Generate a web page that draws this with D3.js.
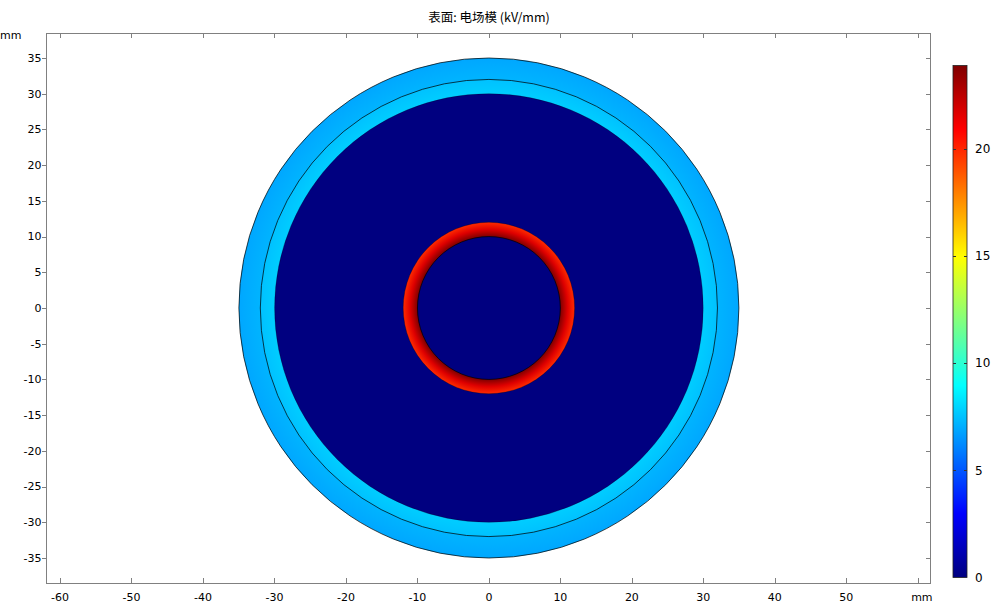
<!DOCTYPE html>
<html lang="zh">
<head>
    <meta charset="UTF-8">
    <title>表面: 电场模 (kV/mm)</title>
    <style>
        body {
            margin: 0;
            padding: 0;
            background-color: #ffffff;
        }
        svg {
            display: block;
        }
        text {
            font-family: "DejaVu Sans", Arial, sans-serif;
            font-size: 11px;
            fill: #000;
        }
    </style>
</head>
<body>
    <svg width="998" height="606"></svg>

    <script src="https://d3js.org/d3.v7.min.js"></script>
    <script>
        let width = 998, height = 606;

        // Cable layers (mm): inner and outer radius of each one
        const layerInner = [0, 10, 12, 30, 32];
        const layerOuter = [10, 12, 30, 32, 35];
        // Field norm (kV/mm) read at evenly spaced radii across each layer, inner -> outer
        const layerField = [
            [0, 0],
            [23.9, 21.7, 19.9],
            [0, 0],
            [7.8, 7.5],
            [7.2, 6.9]
        ];
        // Boundaries drawn as dark lines, with how strong they look
        const edgeRadius = [10, 12, 30, 32, 35];
        const edgeOpacity = [0.9, 0.35, 0.3, 0.9, 0.9];

        const xTicks = [-60, -50, -40, -30, -20, -10, 0, 10, 20, 30, 40, 50, 60];
        const yTicks = [-35, -30, -25, -20, -15, -10, -5, 0, 5, 10, 15, 20, 25, 30, 35];
        const colorTicks = [0, 5, 10, 15, 20];
        const fieldMax = 23.9;

        // Rainbow colour table (fraction of max -> colour)
        const rainbowStops = [0, 0.125, 0.375, 0.625, 0.875, 1];
        const rainbowColors = ["#000080", "#0000ff", "#00ffff", "#ffff00", "#ff0000", "#800000"];

        let svg = d3.select("svg")
            .attr("viewBox", "0 0 " + width + " " + height);

        let x = d3.scaleLinear().domain([-61.95, 61.7]).range([46, 930]);
        let y = d3.scaleLinear().domain([38.5, -38.5]).range([33, 583]);

        let colorScale = d3.scaleLinear()
            .domain(rainbowStops.map(s => s * fieldMax))
            .range(rainbowColors)
            .clamp(true);

        let defs = svg.append("defs");
        let cx = x(0), cy = y(0);
        let pxPerMm = x(1) - x(0);

        // One radial gradient per layer
        layerOuter.forEach((rOut, i) => {
            let rIn = layerInner[i];
            let vals = layerField[i];
            let g = defs.append("radialGradient")
                .attr("id", "layer" + i)
                .attr("gradientUnits", "userSpaceOnUse")
                .attr("cx", cx).attr("cy", cy).attr("fx", cx).attr("fy", cy)
                .attr("r", rOut * pxPerMm);
            vals.forEach((v, k) => {
                let r = rIn + (rOut - rIn) * k / (vals.length - 1);
                g.append("stop")
                    .attr("offset", r / rOut)
                    .attr("stop-color", colorScale(v));
            });
        });

        // Title
        svg.append("text")
            .attr("x", 489)
            .attr("y", 22)
            .attr("text-anchor", "middle")
            .style("font-family", "'Noto Sans CJK SC', 'DejaVu Sans', sans-serif")
            .style("font-size", "12.5px")
            .text("表面: 电场模 (kV/mm)");

        // Layers, outermost first so inner disks cover them
        let order = d3.range(layerOuter.length).reverse();
        svg.append("g")
            .selectAll("circle")
            .data(order)
            .enter()
            .append("circle")
            .attr("cx", cx)
            .attr("cy", cy)
            .attr("r", i => y(0) - y(layerOuter[i]))
            .attr("fill", i => "url(#layer" + i + ")");

        svg.append("g")
            .selectAll("circle")
            .data(edgeRadius)
            .enter()
            .append("circle")
            .attr("cx", cx)
            .attr("cy", cy)
            .attr("r", r => y(0) - y(r))
            .attr("fill", "none")
            .attr("stroke", "#000")
            .attr("stroke-width", 0.8)
            .attr("stroke-opacity", (r, i) => edgeOpacity[i]);

        // Frame
        let frameColor = "#808080";
        svg.append("rect")
            .attr("x", x.range()[0] + 0.5)
            .attr("y", y.range()[0] + 0.5)
            .attr("width", x.range()[1] - x.range()[0])
            .attr("height", y.range()[1] - y.range()[0])
            .attr("fill", "none")
            .attr("stroke", frameColor);

        let ticks = svg.append("g").attr("stroke", frameColor).attr("shape-rendering", "crispEdges");
        xTicks.forEach(t => {
            let px = Math.round(x(t)) + 0.5;
            ticks.append("line").attr("x1", px).attr("x2", px)
                .attr("y1", y.range()[0]).attr("y2", y.range()[0] + 5);
            ticks.append("line").attr("x1", px).attr("x2", px)
                .attr("y1", y.range()[1]).attr("y2", y.range()[1] - 5);
        });
        yTicks.forEach(t => {
            let py = Math.round(y(t)) + 0.5;
            ticks.append("line").attr("y1", py).attr("y2", py)
                .attr("x1", x.range()[0] - 4).attr("x2", x.range()[0]);
            ticks.append("line").attr("y1", py).attr("y2", py)
                .attr("x1", x.range()[1]).attr("x2", x.range()[1] - 4);
        });

        // Tick labels
        svg.append("g")
            .selectAll("text")
            .data(xTicks.filter(t => t < 60))
            .enter()
            .append("text")
            .attr("x", d => x(d))
            .attr("y", 601)
            .attr("text-anchor", "middle")
            .text(d => d);

        svg.append("text")
            .attr("x", x(60) + 4)
            .attr("y", 601)
            .attr("text-anchor", "middle")
            .text("mm");

        svg.append("g")
            .selectAll("text")
            .data(yTicks)
            .enter()
            .append("text")
            .attr("x", 41.5)
            .attr("y", d => y(d))
            .attr("dy", "0.35em")
            .attr("text-anchor", "end")
            .text(d => d);

        svg.append("text")
            .attr("x", 0)
            .attr("y", 38.5)
            .text("mm");

        // Colour legend
        let cbar = d3.scaleLinear().domain([0, fieldMax]).range([577.5, 65.5]);
        let lg = defs.append("linearGradient")
            .attr("id", "cbar")
            .attr("x1", 0).attr("y1", 1).attr("x2", 0).attr("y2", 0);
        d3.range(0, 1.0001, 0.025).forEach(f => {
            lg.append("stop").attr("offset", f).attr("stop-color", colorScale(f * fieldMax));
        });

        svg.append("rect")
            .attr("x", 953)
            .attr("y", cbar(fieldMax))
            .attr("width", 14)
            .attr("height", cbar(0) - cbar(fieldMax))
            .attr("fill", "url(#cbar)")
            .attr("stroke", "#222")
            .attr("stroke-width", 0.8);

        let cticks = svg.append("g").attr("stroke", "#333");
        colorTicks.forEach(t => {
            let py = Math.round(cbar(t)) + 0.5;
            if (t > 0) {
                cticks.append("line").attr("x1", 953).attr("x2", 956).attr("y1", py).attr("y2", py);
                cticks.append("line").attr("x1", 964).attr("x2", 967).attr("y1", py).attr("y2", py);
            }
        });

        svg.append("g")
            .selectAll("text")
            .data(colorTicks)
            .enter()
            .append("text")
            .attr("x", 975)
            .attr("y", d => cbar(d))
            .attr("dy", "0.35em")
            .style("font-size", "12px")
            .text(d => d);
    </script>
</body>
</html>
